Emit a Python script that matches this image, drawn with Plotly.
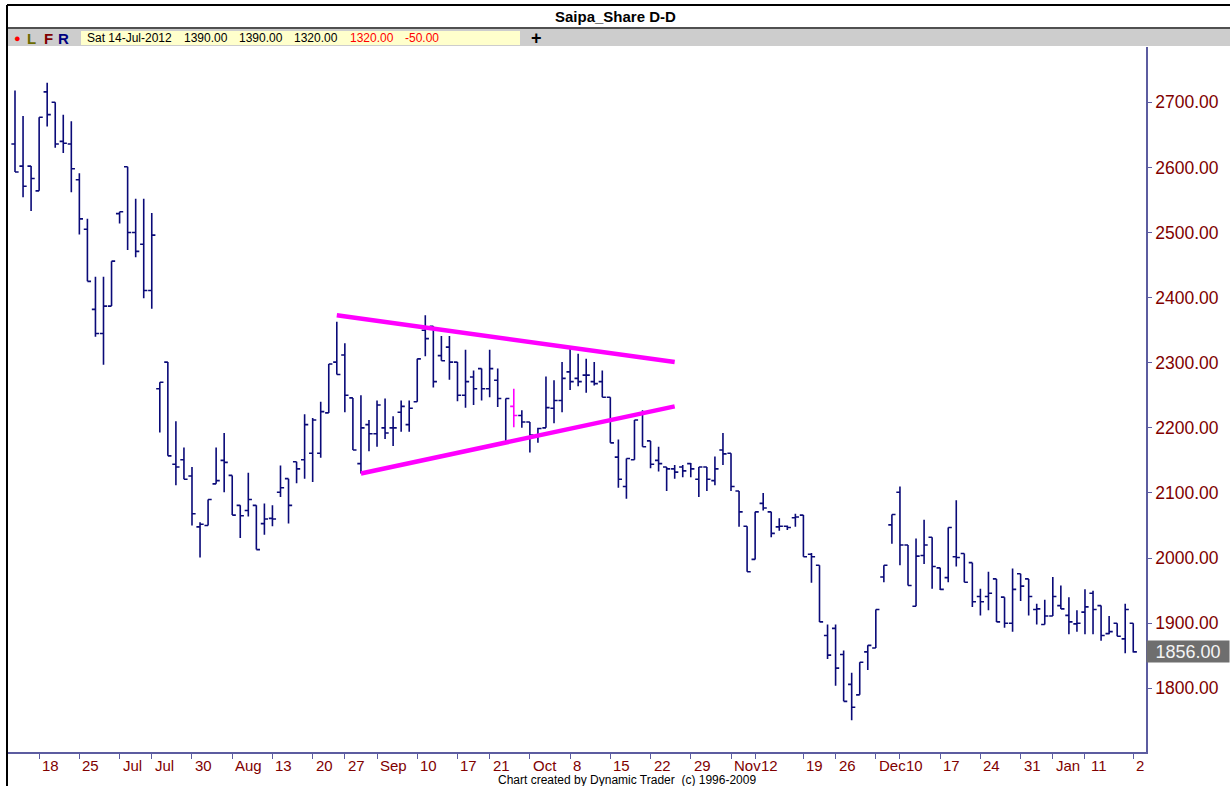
import plotly.graph_objects as go

# ---- daily bars (oldest first) ----
opens = [2636, 2602, 2602, 2564, 2716, 2700, 2640, 2636, 2581, 2505,
         2382, 2345, 2387, 2529, 2601, 2500, 2482, 2411, 2260, 2301,
         2144, 2151, 2126, 2048, 2050, 2114, 2150, 2127, 2081, 2073,
         2081, 2053, 2061, 2101, 2122, 2148, 2151, 2161, 2161, 2223,
         2301, 2312, 2246, 2145, 2205, 2191, 2200, 2200, 2224, 2205,
         2240, 2350, 2356, 2311, 2324, 2301, 2250, 2278, 2291, 2260,
         2273, 2177, 2233, 2219, 2209, 2186, 2200, 2230, 2242, 2286,
         2276, 2281, 2271, 2271, 2247, 2155, 2110, 2151, 2222, 2180,
         2150, 2140, 2137, 2140, 2145, 2121, 2140, 2119, 2166, 2161,
         2103, 2049, 1998, 2084, 2071, 2048, 2049, 2062, 2066, 2006,
         1989, 1881, 1892, 1852, 1806, 1790, 1856, 1862, 1971, 2051,
         2101, 2020, 1926, 2004, 2032, 1985, 1970, 2002, 2007, 1993,
         1941, 1941, 1968, 1940, 1900, 1976, 1968, 1921, 1898, 1911,
         1927, 1912, 1899, 1917, 1946, 1927, 1884, 1900, 1876, 1900]
highs = [2718, 2679, 2602, 2677, 2730, 2700, 2681, 2671, 2591, 2521,
         2432, 2432, 2456, 2532, 2601, 2552, 2552, 2530, 2270, 2301,
         2210, 2170, 2140, 2055, 2090, 2170, 2192, 2127, 2081, 2131,
         2081, 2084, 2081, 2142, 2122, 2148, 2221, 2215, 2240, 2298,
         2363, 2330, 2246, 2250, 2212, 2242, 2245, 2218, 2242, 2242,
         2306, 2373, 2356, 2341, 2341, 2301, 2320, 2288, 2291, 2320,
         2291, 2245, 2260, 2227, 2209, 2200, 2279, 2273, 2301, 2322,
         2314, 2306, 2301, 2288, 2247, 2182, 2153, 2212, 2227, 2180,
         2171, 2140, 2143, 2143, 2146, 2140, 2140, 2156, 2192, 2161,
         2103, 2049, 2071, 2100, 2071, 2061, 2050, 2068, 2066, 2008,
         1989, 1898, 1898, 1858, 1824, 1840, 1866, 1921, 1989, 2067,
         2110, 2020, 2030, 2059, 2032, 1985, 2047, 2089, 2007, 1993,
         1953, 1979, 1968, 1940, 1984, 1976, 1968, 1930, 1936, 1971,
         1958, 1940, 1920, 1952, 1950, 1927, 1911, 1900, 1930, 1900]
lows = [2593, 2554, 2533, 2564, 2663, 2630, 2622, 2562, 2497, 2425,
        2340, 2297, 2387, 2514, 2473, 2462, 2399, 2383, 2193, 2157,
        2112, 2121, 2050, 2001, 2050, 2114, 2101, 2066, 2031, 2064,
        2013, 2036, 2049, 2094, 2053, 2115, 2122, 2117, 2154, 2223,
        2282, 2224, 2166, 2130, 2164, 2171, 2183, 2172, 2194, 2194,
        2240, 2310, 2262, 2303, 2274, 2241, 2231, 2235, 2242, 2247,
        2232, 2177, 2201, 2200, 2162, 2177, 2200, 2207, 2224, 2258,
        2264, 2254, 2265, 2247, 2177, 2108, 2091, 2151, 2171, 2138,
        2133, 2103, 2122, 2124, 2124, 2094, 2103, 2112, 2143, 2103,
        2048, 1979, 1998, 2073, 2032, 2042, 2043, 2048, 2002, 1962,
        1902, 1845, 1804, 1780, 1751, 1790, 1828, 1862, 1963, 2022,
        1989, 1958, 1926, 1991, 1953, 1951, 1963, 1987, 1963, 1925,
        1912, 1920, 1902, 1893, 1887, 1934, 1912, 1898, 1898, 1911,
        1922, 1883, 1887, 1883, 1883, 1873, 1883, 1880, 1854, 1855]
closes = [2593, 2571, 2583, 2677, 2681, 2636, 2637, 2598, 2521, 2425,
          2345, 2387, 2456, 2532, 2500, 2471, 2411, 2496, 2270, 2157,
          2140, 2121, 2068, 2052, 2090, 2119, 2147, 2066, 2065, 2090,
          2013, 2060, 2060, 2108, 2081, 2137, 2205, 2212, 2225, 2298,
          2282, 2250, 2166, 2200, 2191, 2235, 2192, 2200, 2233, 2230,
          2306, 2337, 2271, 2303, 2301, 2250, 2271, 2260, 2260, 2291,
          2245, 2245, 2219, 2209, 2189, 2199, 2231, 2242, 2276, 2271,
          2271, 2281, 2268, 2247, 2177, 2121, 2153, 2212, 2171, 2144,
          2145, 2137, 2132, 2134, 2137, 2140, 2121, 2137, 2160, 2110,
          2071, 1979, 2071, 2077, 2038, 2049, 2047, 2063, 2002, 2002,
          1902, 1851, 1831, 1780, 1771, 1840, 1866, 1921, 1989, 2067,
          2020, 1958, 2003, 2020, 1987, 1952, 2047, 2001, 1963, 1933,
          1933, 1946, 1902, 1900, 1952, 1957, 1941, 1922, 1911, 1941,
          1922, 1902, 1900, 1925, 1921, 1881, 1887, 1880, 1921, 1856]

bar_no = list(range(len(closes)))
marked_bar = 62  # bar drawn in magenta

# ---- triangle trendlines (bar number, price) ----
upper_x = [40, 82]
upper_y = [2373, 2301]
lower_x = [43, 82]
lower_y = [2130, 2233]

# ---- axis labels ----
price_ticks = [1800, 1900, 2000, 2100, 2200, 2300, 2400, 2500, 2600, 2700]
date_tick_bars = [3, 8, 13, 17, 22, 27, 32, 37, 41, 45, 50, 55, 59, 64, 69,
                  74, 79, 84, 89, 92, 98, 102, 107, 110, 115, 120, 125, 129, 133, 139]
date_tick_text = ["18", "25", "Jul", "Jul", "30", "Aug", "13", "20", "27", "Sep",
                  "10", "17", "21", "Oct", "8", "15", "22", "29", "Nov", "12",
                  "19", "26", "Dec", "10", "17", "24", "31", "Jan", "11", "2"]
MONTHS = {"Jul", "Aug", "Sep", "Oct", "Nov", "Dec", "Jan"}

# ---- status line ----
status_date = "Sat 14-Jul-2012"
status_vals = ["1390.00", "1390.00", "1320.00", "1320.00", "-50.00"]

# ---- page geometry (pixels) ----
W, H = 1230, 786
PL, PR, PT, PB = 8, 1146, 47, 752
BAR0, BAR_STEP = 15, 8.045
Y_TOP, Y_BOT = 2784.9, 1702.2

NAVY = "#0a0a78"
AXIS = "#5c5ca0"
LABEL_RED = "#800000"
MAGENTA = "#ff00ff"
FONT = "Liberation Sans, Arial, sans-serif"


def xp(px):
    return (px - PL) / (PR - PL)


def yp(py):
    return (PB - py) / (PB - PT)


main_o = [None if i == marked_bar else v for i, v in enumerate(opens)]
main_h = [None if i == marked_bar else v for i, v in enumerate(highs)]
main_l = [None if i == marked_bar else v for i, v in enumerate(lows)]
main_c = [None if i == marked_bar else v for i, v in enumerate(closes)]

fig = go.Figure()
fig.add_trace(go.Ohlc(
    x=bar_no, open=main_o, high=main_h, low=main_l, close=main_c,
    increasing=dict(line=dict(color=NAVY, width=1.6)),
    decreasing=dict(line=dict(color=NAVY, width=1.6)),
    tickwidth=0.45, showlegend=False, hoverinfo="skip",
))
fig.add_trace(go.Ohlc(
    x=[bar_no[marked_bar]], open=[opens[marked_bar]], high=[highs[marked_bar]],
    low=[lows[marked_bar]], close=[closes[marked_bar]],
    increasing=dict(line=dict(color=MAGENTA, width=1.6)),
    decreasing=dict(line=dict(color=MAGENTA, width=1.6)),
    tickwidth=0.45, showlegend=False, hoverinfo="skip",
))
for tx, ty in ((upper_x, upper_y), (lower_x, lower_y)):
    fig.add_trace(go.Scatter(x=tx, y=ty, mode="lines",
                             line=dict(color=MAGENTA, width=4.5),
                             showlegend=False, hoverinfo="skip"))

shapes = [
    # window frame
    dict(type="line", xref="paper", yref="paper", x0=xp(7), x1=xp(W), y0=yp(5), y1=yp(5),
         line=dict(color="#000000", width=2)),
    dict(type="line", xref="paper", yref="paper", x0=xp(7), x1=xp(7), y0=yp(5), y1=yp(H),
         line=dict(color="#000000", width=2)),
    # status strip
    dict(type="rect", xref="paper", yref="paper", x0=xp(8), x1=xp(W), y0=yp(46), y1=yp(28),
         fillcolor="#cdcdcd", line=dict(width=0)),
    dict(type="line", xref="paper", yref="paper", x0=xp(8), x1=xp(W), y0=yp(28), y1=yp(28),
         line=dict(color="#505050", width=2)),
    dict(type="rect", xref="paper", yref="paper", x0=xp(81), x1=xp(520), y0=yp(45), y1=yp(31),
         fillcolor="#ffffcc", line=dict(width=0)),
]


def page_text(txt, px, py, size, color, anchor="center"):
    return dict(text=txt, xref="paper", yref="paper", x=xp(px), y=yp(py),
                xanchor=anchor, yanchor="middle", showarrow=False,
                font=dict(family=FONT, size=size, color=color))


annotations = [
    page_text("<b>Saipa_Share D-D</b>", 615, 17, 15, "#000000"),
    page_text("●", 17, 38, 11, "#ff0000"),
    page_text("<b>L</b>", 31, 38, 15, "#6b6b00"),
    page_text("<b>F</b>", 48, 38, 15, "#800000"),
    page_text("<b>R</b>", 63, 38, 15, "#000080"),
    page_text("<b>+</b>", 536, 38, 18, "#000000"),
    page_text("Chart created by Dynamic Trader  (c) 1996-2009", 627, 780, 12, "#000000"),
    dict(text=f"{closes[-1]:.2f}", xref="paper", yref="y", x=xp(1146), y=closes[-1],
         xanchor="left", yanchor="middle", showarrow=False, bgcolor="#6e6e6e",
         width=80, height=19, borderpad=1, align="center",
         font=dict(family=FONT, size=18, color="#f4f4f4")),
]

status_left = [85, 182, 237, 292, 348, 403]
status_colors = ["#000000", "#000000", "#000000", "#000000", "#ff0000", "#ff0000"]
for left, txt, col in zip(status_left, [status_date] + status_vals, status_colors):
    annotations.append(page_text(txt, left, 38, 12, col, anchor="left"))

prev = None
for b, txt in zip(date_tick_bars, date_tick_text):
    # a day number right after a month name is nudged so the two read as one word
    shift = 4 if (prev in MONTHS and txt not in MONTHS) and b - prev_b <= 4 else 1
    annotations.append(dict(text=txt, xref="x", yref="paper", x=b, y=0,
                            xanchor="left", yanchor="top", xshift=shift, yshift=-3,
                            showarrow=False,
                            font=dict(family=FONT, size=15, color=LABEL_RED)))
    prev, prev_b = txt, b

fig.update_layout(
    width=W, height=H,
    margin=dict(l=PL, r=W - PR, t=PT, b=H - PB, autoexpand=False),
    paper_bgcolor="#ffffff", plot_bgcolor="#ffffff",
    shapes=shapes, annotations=annotations,
    showlegend=False,
    xaxis=dict(
        range=[(PL - BAR0) / BAR_STEP, (PR - BAR0) / BAR_STEP],
        rangeslider=dict(visible=False),
        tickmode="array", tickvals=date_tick_bars, showticklabels=False,
        ticks="outside", ticklen=5, tickcolor=AXIS, tickwidth=1,
        showline=True, linecolor=AXIS, linewidth=1.5,
        showgrid=False, zeroline=False, fixedrange=True, automargin=False,
    ),
    yaxis=dict(
        side="right", range=[Y_BOT, Y_TOP],
        tickmode="array", tickvals=price_ticks,
        ticktext=[f"{v:.2f}" for v in price_ticks],
        ticks="outside", ticklen=4, tickcolor=AXIS, tickwidth=1,
        tickfont=dict(family=FONT, size=17.5, color=LABEL_RED),
        showline=True, linecolor=AXIS, linewidth=1.5,
        showgrid=False, zeroline=False, fixedrange=True, automargin=False,
    ),
)

fig.write_html("out.html")
